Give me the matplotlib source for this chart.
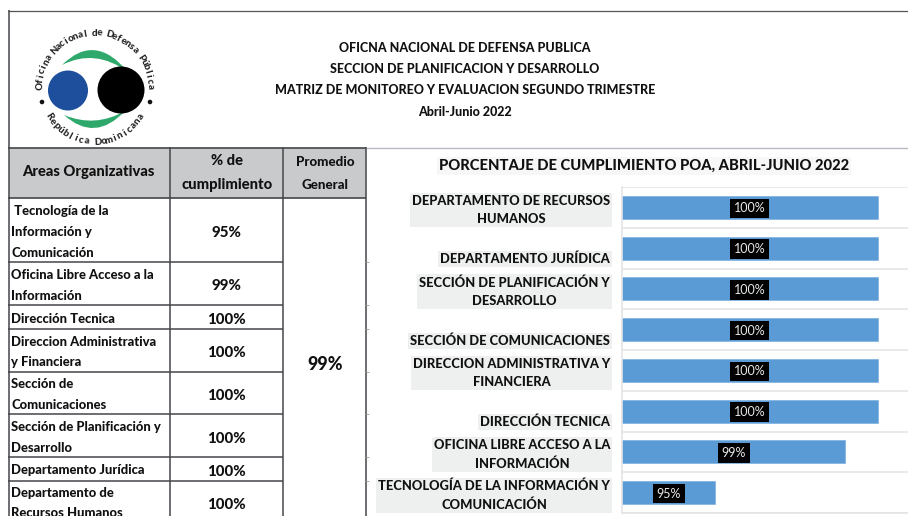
import numpy as np
import matplotlib
matplotlib.use("Agg")
import matplotlib.pyplot as plt
from matplotlib.patches import Circle, PathPatch, Rectangle
from matplotlib.path import Path

plt.rcParams['font.family'] = ['Lato', 'DejaVu Sans']

# ---- data ----
header_lines = ["OFICNA NACIONAL DE DEFENSA PUBLICA",
                "SECCION DE PLANIFICACION Y DESARROLLO",
                "MATRIZ DE MONITOREO Y EVALUACION SEGUNDO TRIMESTRE",
                "Abril-Junio 2022"]
chart_title = "PORCENTAJE DE CUMPLIMIENTO POA, ABRIL-JUNIO 2022"
table_areas = [["\u00a0Tecnología de la", "Información y", "Comunicación"],
               ["Oficina Libre Acceso a la", "Información"],
               ["Dirección Tecnica"],
               ["Direccion Administrativa", "y Financiera"],
               ["Sección de", "Comunicaciones"],
               ["Sección de Planificación y", "Desarrollo"],
               ["Departamento Jurídica"],
               ["Departamento de", "Recursos Humanos"]]
table_pct = ["95%", "99%", "100%", "100%", "100%", "100%", "100%", "100%"]
promedio = "99%"
categories = ["DEPARTAMENTO DE RECURSOS\nHUMANOS",
              "DEPARTAMENTO JURÍDICA",
              "SECCIÓN DE PLANIFICACIÓN Y\nDESARROLLO",
              "SECCIÓN DE COMUNICACIONES",
              "DIRECCION ADMINISTRATIVA Y\nFINANCIERA",
              "DIRECCIÓN TECNICA",
              "OFICINA LIBRE ACCESO A LA\nINFORMACIÓN",
              "TECNOLOGÍA DE LA INFORMACIÓN Y\nCOMUNICACIÓN"]
values = [100, 100, 100, 100, 100, 100, 99, 95]

W, H = 908, 516
fig = plt.figure(figsize=(W / 100, H / 100), dpi=100, facecolor='white')
bg = fig.add_axes([0, 0, 1, 1])
bg.set_xlim(0, W)
bg.set_ylim(H, 0)
bg.axis('off')

DARK = '#45474a'
TXT = '#111111'
BOLD = 'black'

# ---- frame and table ----
bg.add_patch(Rectangle((9, 148), 357, 50, fc='#c9cacc', ec='none', zorder=0))
def hl(y, x0, x1, c=DARK, lw=1.1):
    bg.plot([x0, x1], [y, y], color=c, lw=lw, solid_capstyle='butt', zorder=2)
def vl(x, y0, y1, c=DARK, lw=1.1):
    bg.plot([x, x], [y0, y1], color=c, lw=lw, solid_capstyle='butt', zorder=2)
hl(10.5, 8, W, '#555555', 0.9)
hl(147.5, 8, 366, DARK, 1.2)
hl(147.5, 366, W, '#b9b9c4', 1.0)
hl(198, 8, 366, DARK, 1.2)
vl(8.5, 10, H)
vl(170, 147, H)
vl(283, 147, H)
vl(366, 147, H)
for y in [262, 305, 329, 372, 414, 457, 481]:
    hl(y, 8, 283)
    vl(366, y - 1, y + 1, '#777777')
    hl(y, 366, 369, '#aaaaaa', 0.7)

for txt, y in zip(header_lines, [48, 69, 90, 112]):
    bg.text(465, y, txt, ha='center', va='center', fontsize=9, fontweight=BOLD, color=TXT)

bg.text(88, 172, "Areas Organizativas", ha='center', va='center', fontsize=10.6, fontweight=BOLD, color=TXT)
bg.text(227, 161, "% de", ha='center', va='center', fontsize=10.6, fontweight=BOLD, color=TXT)
bg.text(227, 185, "cumplimiento", ha='center', va='center', fontsize=10.6, fontweight=BOLD, color=TXT)
bg.text(325, 162, "Promedio", ha='center', va='center', fontsize=9.6, fontweight=BOLD, color=TXT)
bg.text(325, 185, "General", ha='center', va='center', fontsize=9.6, fontweight=BOLD, color=TXT)

line_ys = [[211, 232, 253], [275, 296], [319], [342, 362], [384, 405], [427, 448], [470], [493, 513]]
pct_ys = [233, 286, 320, 353, 396, 439, 472, 505]
for lines, ys, pct, py in zip(table_areas, line_ys, table_pct, pct_ys):
    for t, y in zip(lines, ys):
        bg.text(11, y, t, ha='left', va='center', fontsize=9.4, fontweight=BOLD, color=TXT, clip_on=True)
    bg.text(226, py, pct, ha='center', va='center', fontsize=10.8, fontweight=BOLD, color=TXT)
bg.text(325, 364, promedio, ha='center', va='center', fontsize=13, fontweight=BOLD, color=TXT)

# ---- logo ----
GREEN = '#2fa96b'
def crescent(p0, c_out, p1, c_in):
    v = [p0, c_out, p1, c_in, p0, p0]
    codes = [Path.MOVETO, Path.CURVE3, Path.CURVE3, Path.CURVE3, Path.CURVE3, Path.CLOSEPOLY]
    bg.add_patch(PathPatch(Path(v, codes), fc=GREEN, ec='none', zorder=1))
crescent((62, 65), (95, 32), (128, 72), (95, 48))
crescent((64, 115), (95, 143), (125, 111), (95, 128))
bg.add_patch(Circle((68, 90.5), 20, fc='#1d4f9c', ec='none', zorder=2))
bg.add_patch(Circle((121, 90), 23.5, fc='black', ec='none', zorder=3))
bg.add_patch(Circle((42, 102), 2.3, fc='#111111', ec='none', zorder=2))
bg.add_patch(Circle((150, 102), 2.3, fc='#111111', ec='none', zorder=2))

cx, cy = 95, 88
def ring(text, a0, a1, r, bottom=False):
    for ch, a in zip(text, np.linspace(a0, a1, len(text))):
        th = np.deg2rad(a)
        x, y = cx + r * np.cos(th), cy - r * np.sin(th)
        rot = a + 90 if bottom else a - 90
        bg.text(x, y, ch, ha='center', va='center', rotation=rot, rotation_mode='anchor',
                fontsize=7, fontweight=BOLD, color='#222222')
ring("Oficina Nacional de Defensa Pública", 178, 2, 55)
ring("República Dominicana", 212, 328, 54, bottom=True)

# ---- chart ----
top, bottom = 187, 513
left, right = 622, 908
ax = fig.add_axes([left / W, 1 - bottom / H, (right - left) / W, (bottom - top) / H])
ax.patch.set_alpha(0)
ypos = np.arange(len(categories))
xmin = 92.13
ax.barh(ypos, values, left=0, height=0.565, color='#5b9bd5', edgecolor='#7fb2e0', linewidth=0.5, zorder=2)
ax.set_xlim(xmin, xmin + (right - left) / 32.5)
ax.set_ylim(len(categories) - 0.5, -0.5)
ax.set_xticks([])
ax.set_yticks(np.arange(-0.5, len(categories) + 0.5, 1))
ax.set_yticklabels([])
ax.tick_params(length=0)
ax.grid(axis='y', color='#e9e9e9', lw=1.4, zorder=0)
for s in ['top', 'right']:
    ax.spines[s].set_visible(False)
for s in ['left', 'bottom']:
    ax.spines[s].set_color('#e4e4e4')
    ax.spines[s].set_linewidth(1.2)

for i, (v, cat) in enumerate(zip(values, categories)):
    ax.annotate(f"{v}%", xy=((xmin + v) / 2, i), xytext=(0, -0.7), textcoords='offset points',
                ha='center', va='center', color='#e8e8e8', fontsize=9, zorder=4,
                bbox=dict(fc='black', ec='none', boxstyle='square,pad=0.3'))
    two = '\n' in cat
    off = -2 if two else -8
    ax.annotate(cat, xy=(0, i), xycoords=ax.get_yaxis_transform(),
                xytext=(-8.6, off), textcoords='offset points',
                ha='right', va='center', multialignment='center', fontsize=9.25, fontweight=BOLD,
                color=TXT, linespacing=1.65, annotation_clip=False,
                bbox=dict(fc='#eef0f0', ec='none', boxstyle='square,pad=0.15'))

bg.text(644, 166, chart_title, ha='center', va='center', fontsize=10.6, fontweight=BOLD, color=TXT,
        bbox=dict(fc='#f7f7f7', ec='none', boxstyle='square,pad=0.15'))

fig.savefig('out.png', dpi=100)
